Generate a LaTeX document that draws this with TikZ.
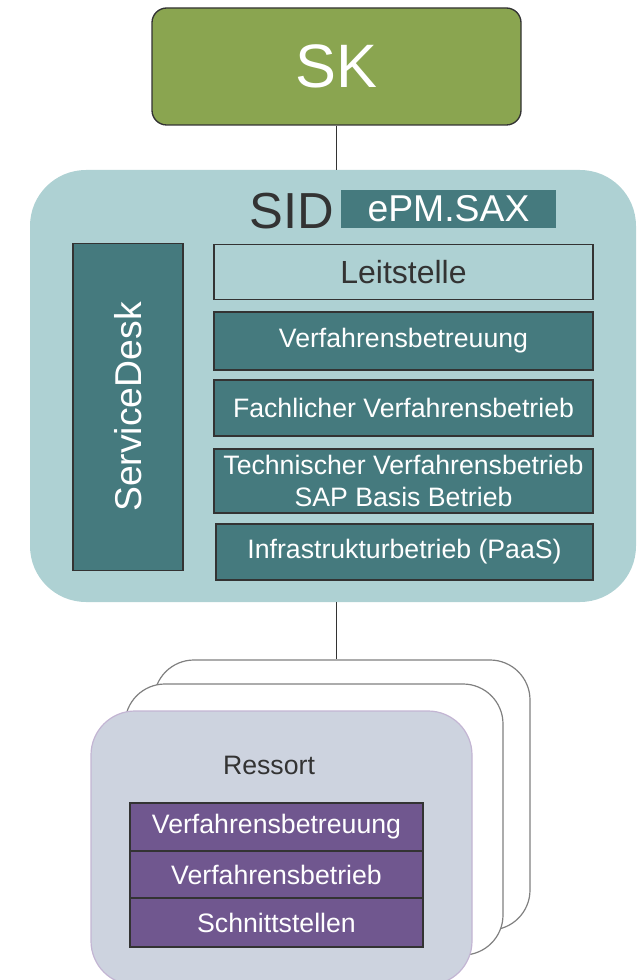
\documentclass[tikz,border=0pt]{standalone}
\usepackage{fontspec}
\setmainfont{Liberation Sans}
\definecolor{skgreen}{HTML}{8AA550}
\definecolor{sidbg}{HTML}{AED1D3}
\definecolor{sidteal}{HTML}{457A7E}
\definecolor{ressbg}{HTML}{CDD3DF}
\definecolor{ressline}{HTML}{C3B5D3}
\definecolor{purp}{HTML}{70578F}
\definecolor{darktxt}{HTML}{333333}
\begin{document}
\begin{tikzpicture}[x=0.75pt,y=-0.75pt,
 tbox/.style={draw=darktxt,line width=1.1pt,fill=sidteal,text=white,inner sep=1pt,minimum width=284.25pt,align=center,font=\fontsize{20}{24}\selectfont},
 pbox/.style={draw=darktxt,line width=1.1pt,fill=purp,text=white,inner sep=1pt,minimum width=219.75pt,font=\fontsize{20}{24}\selectfont},
 card/.style={draw=gray,line width=0.9pt,fill=white,rounded corners=30pt}]
\clip(0,0)rectangle(641,980);
%SK
\node[draw=darktxt,line width=1pt,fill=skgreen,rounded corners=11pt,minimum width=276.75pt,minimum height=87.75pt,text=white,font=\fontsize{46}{50}\selectfont](sk)at(336.5,66.5){SK};
%SID
\node[fill=sidbg,rounded corners=42pt,minimum width=454.5pt,minimum height=324pt](sid)at(333,386){};
\node[text=darktxt,inner sep=0pt,font=\fontsize{38}{40}\selectfont](sidlabel)at(291.5,211.5){SID};
\node[fill=sidteal,text=white,inner sep=0pt,minimum width=161.25pt,minimum height=28.5pt,font=\fontsize{28}{30}\selectfont](epm)at(448.5,209){ePM.SAX};
\node[tbox,rotate=90,minimum width=245.25pt,minimum height=82.5pt,font=\fontsize{28}{30}\selectfont](sdesk)at(128,407){ServiceDesk};
\node[tbox,fill=sidbg,text=darktxt,minimum height=41.25pt,font=\fontsize{24}{26}\selectfont](leit)at(403.5,272){Leitstelle};
\node[tbox,minimum height=43.5pt](vbetr)at(403.5,341){Verfahrensbetreuung};
\node[tbox,minimum height=42pt](fach)at(403.5,408){Fachlicher Verfahrensbetrieb};
\node[tbox,minimum height=48pt](tech)at(403.5,481){Technischer Verfahrensbetrieb\\SAP Basis Betrieb};
\node[tbox,minimum width=282.75pt,minimum height=42pt](infra)at(404.5,552){Infrastrukturbetrieb (PaaS)};
%Ressort
\node[card,minimum width=282pt,minimum height=202.5pt](res3)at(342,795){};
\node[card,minimum width=283.5pt,minimum height=203.25pt](res2)at(314,819.5){};
\node[card,draw=ressline,fill=ressbg,rounded corners=33pt,minimum width=285.75pt,minimum height=205.5pt](res1)at(281.5,848){};
\node[text=darktxt,inner sep=0pt,font=\fontsize{20}{24}\selectfont](ressort)at(269,765){Ressort};
\node[pbox,minimum height=36pt](pbetr)at(276.5,827){Verfahrensbetreuung};
\node[pbox,minimum height=35.25pt](pbetrieb)at(276.5,874.5){Verfahrensbetrieb};
\node[pbox,minimum height=36.75pt](schnitt)at(276.5,922.5){Schnittstellen};
%lines
\draw[darktxt,line width=0.9pt](sk.south)--(sk.south|-sid.north);
\draw[darktxt,line width=0.9pt](sk.south|-sid.south)--(sk.south|-res3.north);
\end{tikzpicture}
\end{document}
